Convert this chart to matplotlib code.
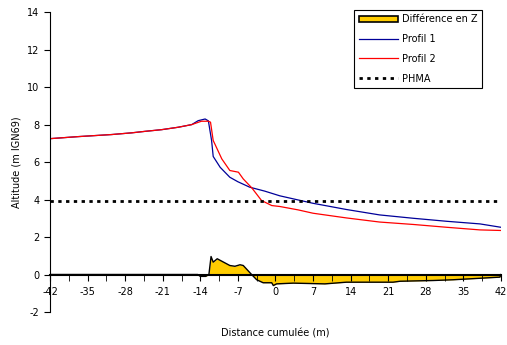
import matplotlib.pyplot as plt
from matplotlib.patches import Patch
from matplotlib.lines import Line2D

# profil 1 (bleu)
x1 = [-42, -36.7, -30.5, -26.8, -24.3, -21.2, -18.1, -15.6, -14.4, -13.1, -12.5, -11.9, -11.6,
      -10.3, -8.5, -7, -4.8, -2, 0.8, 4.2, 7, 13.2, 19.4, 25.7, 31.9, 38.1, 42]
z1 = [7.25, 7.36, 7.47, 7.56, 7.64, 7.73, 7.86, 8.0, 8.21, 8.3, 8.2, 7.15, 6.3,
      5.72, 5.19, 4.95, 4.66, 4.45, 4.2, 3.98, 3.8, 3.47, 3.18, 3.0, 2.84, 2.7, 2.52]

# profil 2 (rouge)
x2 = [-42, -36.7, -30.5, -26.8, -24.3, -21.2, -18.1, -15.6, -13.8, -12.5, -12.1, -11.6, -11.3,
      -10.0, -8.5, -6.9, -6.0, -4.4, -2.6, -0.7, 0.8, 4.2, 7, 13.2, 19.4, 25.7, 31.9, 38.1, 42]
z2 = [7.25, 7.36, 7.47, 7.56, 7.64, 7.73, 7.86, 8.0, 8.18, 8.18, 8.13, 7.15, 6.97,
      6.17, 5.55, 5.46, 5.1, 4.62, 3.95, 3.68, 3.63, 3.45, 3.27, 3.02, 2.8, 2.67, 2.52, 2.38, 2.35]

# difference en Z
xd = [-42, -14.5, -14, -13, -12.4, -12.0, -11.6, -10.85, -10.0, -8.5, -7.55, -6.6, -6.0, -4.45,
      -3.5, -2.3, -0.7, -0.4, 0.2, 3.3, 9.2, 13.2, 21.9, 23.2, 29.4, 33.1, 38.1, 41.8, 42]
dz = [0, 0, -0.1, -0.1, 0, 0.96, 0.66, 0.84, 0.71, 0.48, 0.44, 0.52, 0.48, 0,
      -0.28, -0.44, -0.44, -0.59, -0.5, -0.46, -0.5, -0.41, -0.41, -0.36, -0.32, -0.28, -0.2, -0.14, 0]

phma = 3.9

plt.rcParams['font.family'] = 'DejaVu Sans'
plt.rcParams['font.size'] = 7
plt.rcParams['axes.unicode_minus'] = False

fig = plt.figure(figsize=(5.07, 3.45), dpi=100)
ax = fig.add_axes([0.0986, 0.0957, 0.8895, 0.869])

ax.fill_between(xd, dz, 0, color='#FFCC00', linewidth=0)
ax.plot(xd, dz, color='black', linewidth=1)
ax.plot(x1, z1, color='#000099', linewidth=0.9)
ax.plot(x2, z2, color='#FF0000', linewidth=0.9)
ax.plot([-42, 41.2], [phma, phma], color='black', linestyle=(0, (1.2, 1.6)), linewidth=2)

ax.set_xlim(-42, 42)
ax.set_ylim(-2, 14)
ax.set_xticks(range(-42, 43, 7))
ax.set_xticks([v + 3.5 for v in range(-42, 42, 7)], minor=True)
ax.set_yticks(range(-2, 15, 2))

ax.spines['top'].set_visible(False)
ax.spines['right'].set_visible(False)
ax.spines['bottom'].set_position(('data', 0))
ax.spines['bottom'].set_linewidth(1.5)
ax.tick_params(axis='x', which='both', direction='out', length=4, pad=5)
ax.tick_params(axis='y', direction='out', length=4)

ax.set_xlabel('Distance cumulée (m)', labelpad=0)
ax.xaxis.set_label_coords(0.5, -0.055)
ax.set_ylabel('Altitude (m IGN69)')

handles = [Patch(facecolor='#FFCC00', edgecolor='black', linewidth=1.2),
           Line2D([], [], color='#000099', linewidth=0.9),
           Line2D([], [], color='#FF0000', linewidth=0.9),
           Line2D([], [], color='black', linestyle=(0, (1.2, 1.6)), linewidth=2)]
labels = ['Différence en Z', 'Profil 1', 'Profil 2', 'PHMA']
leg = fig.legend(handles, labels, loc='upper right', bbox_to_anchor=(482 / 507, 1 - 9.5 / 345),
                 fancybox=False, edgecolor='black', framealpha=1, borderaxespad=0,
                 borderpad=0.5, handlelength=4, handletextpad=0.4, labelspacing=1.0)
leg.get_frame().set_linewidth(0.8)

fig.savefig('out.png')
